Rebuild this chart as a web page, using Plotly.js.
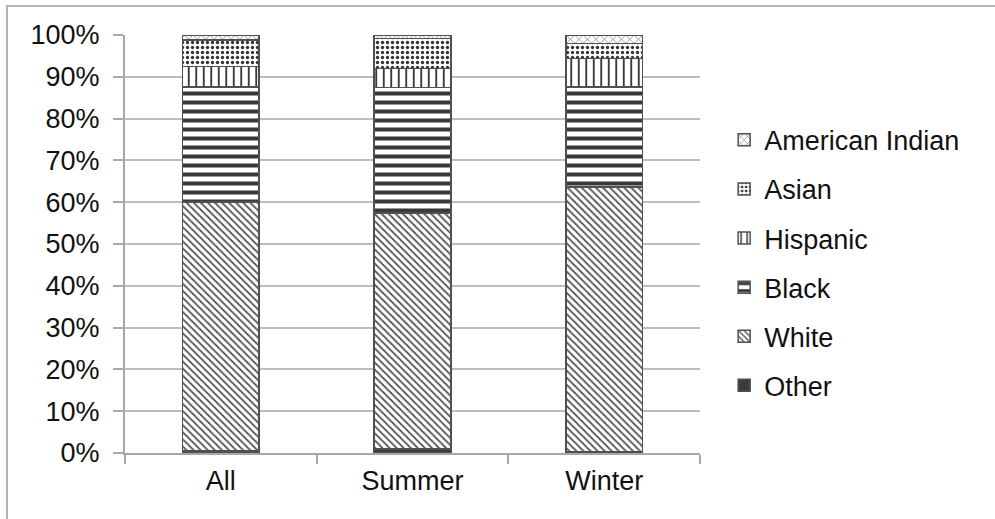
<!DOCTYPE html>
<html><head><meta charset="utf-8">
<script src="https://cdn.plot.ly/plotly-3.0.1.min.js"></script>
<style>
html,body{margin:0;padding:0;background:#fff;}
#wrap{position:relative;width:995px;height:519px;overflow:hidden;}
#chart{width:995px;height:519px;}
#frame{position:absolute;left:6px;top:5px;width:1000px;height:600px;border-left:2px solid #b5b5b5;border-top:2px solid #b5b5b5;pointer-events:none;}
</style></head>
<body><div id="wrap"><div id="chart"></div><div id="frame"></div></div>
<script>
const categories = ["All", "Summer", "Winter"];
const other = [0.5, 0.9, 0.2];
const white = [59.5, 56.5, 63.4];
const black = [27.6, 30.1, 24.0];
const hispanic = [4.9, 4.5, 6.8];
const asian = [6.3, 7.2, 3.6];
const americanIndian = [1.2, 0.8, 2.0];
const tickVals = [0, 10, 20, 30, 40, 50, 60, 70, 80, 90, 100];
const tickText = ["0%","10%","20%","30%","40%","50%","60%","70%","80%","90%","100%"];

const lineStyle = {color: '#505050', width: 1.5};
function mk(name, vals, rank, pat, color) {
  const m = {line: lineStyle};
  if (pat) { m.color = '#ffffff'; m.pattern = pat; } else { m.color = color; }
  return {type: 'bar', name: name, x: categories, y: vals, marker: m, legendgroup: name, legendrank: rank, hoverinfo: 'none'};
}
const traces = [
  mk('Other', other, 6, null, '#3c3c3c'),
  mk('White', white, 5, {shape: '\\', fgcolor: '#555', bgcolor: '#ffffff', size: 5, solidity: 0.35}),
  mk('Black', black, 4, {shape: '-', fgcolor: '#3a3a3a', bgcolor: '#ffffff', size: 9, solidity: 0.45}),
  mk('Hispanic', hispanic, 3, {shape: '|', fgcolor: '#3a3a3a', bgcolor: '#ffffff', size: 7.5, solidity: 0.25}),
  mk('Asian', asian, 2, {shape: '.', fgcolor: '#333', bgcolor: '#ffffff', size: 5, solidity: 0.35}),
  mk('American Indian', americanIndian, 1, {shape: 'x', fgcolor: '#666', bgcolor: '#ffffff', size: 6, solidity: 0.2})
];
const layout = {
  width: 995, height: 519,
  margin: {l: 125, r: 295, t: 35, b: 66},
  barmode: 'stack', bargap: 0.6,
  paper_bgcolor: '#fff', plot_bgcolor: '#fff',
  font: {family: 'Liberation Sans, Arial, sans-serif', size: 27, color: '#111'},
  showlegend: true,
  legend: {x: 1.042, xanchor: 'left', y: 0.455, yanchor: 'middle', traceorder: 'grouped', tracegroupgap: 11, font: {size: 27, color: '#111'}, itemwidth: 30},
  xaxis: {type: 'category', showline: true, linecolor: '#a8a8a8', linewidth: 2, ticks: 'outside', tickson: 'boundaries', ticklen: 9, tickcolor: '#a8a8a8', tickwidth: 2, showgrid: false, ticklabelstandoff: 3, tickfont: {size: 27}},
  yaxis: {range: [0, 100], tickvals: tickVals, ticktext: tickText, showline: true, linecolor: '#a8a8a8', linewidth: 2, ticks: 'outside', ticklen: 10, tickcolor: '#a8a8a8', tickwidth: 2, showgrid: true, gridcolor: '#bdbdbd', gridwidth: 2, zeroline: false, ticklabelstandoff: 8, tickfont: {size: 27}}
};
Plotly.newPlot('chart', traces, layout, {staticPlot: true, displayModeBar: false});
</script></body></html>
